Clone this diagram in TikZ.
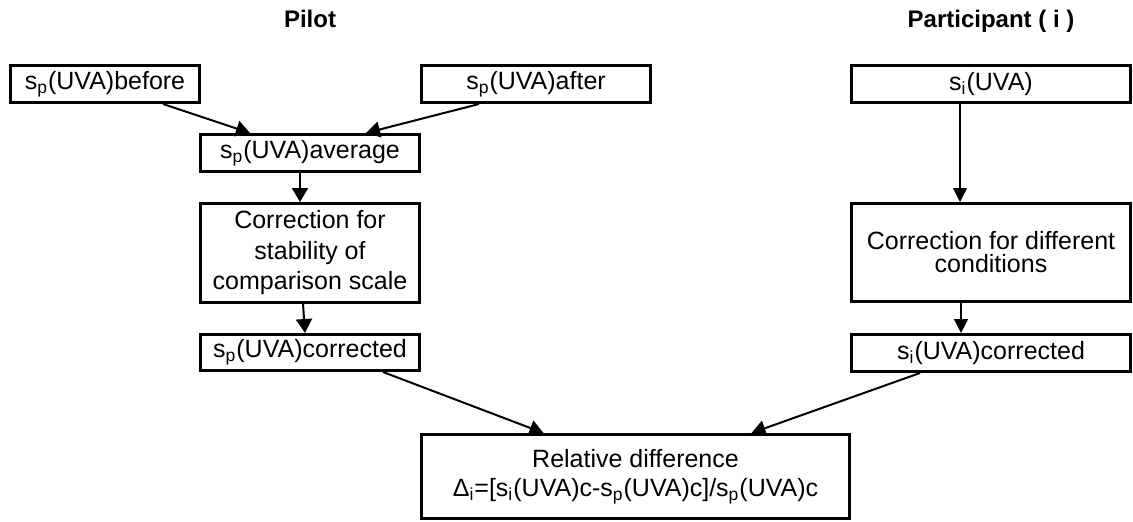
\documentclass[tikz,border=0pt]{standalone}
\usepackage{fontspec}
\setmainfont{Liberation Sans}
\usetikzlibrary{arrows.meta}

\begin{document}
\begin{tikzpicture}[
x=0.5pt, y=-0.5pt,
stage/.style={draw, line width=1.5pt, align=center, inner sep=0pt, font=\fontsize{12.5}{15.25}\selectfont},
title/.style={anchor=base, font=\fontsize{12}{14}\selectfont\bfseries},
arrow/.style={-{Triangle[length=7pt, width=8pt]}, line width=1pt},
thinarrow/.style={-{Triangle[length=7pt, width=7pt]}, line width=0.65pt}
]
\useasboundingbox (0,0) rectangle (1133,521);

% column headings
\node[title] (pilot) at (310,27) {Pilot};
\node[title] (part) at (991,27) {Participant ( i )};

% pilot side
\node[stage, minimum width=94.5pt, minimum height=18.5pt] (before) at (105,84) {s\textsubscript{p}(UVA)before};
\node[stage, minimum width=114.5pt, minimum height=18.5pt] (after) at (536,84) {s\textsubscript{p}(UVA)after};
\node[stage, minimum width=109.5pt, minimum height=18.5pt] (average) at (310,153) {s\textsubscript{p}(UVA)average};
\node[stage, minimum width=109.5pt, minimum height=49.5pt] (corrstab) at (310,253) {Correction for\\stability of\\comparison scale};
\node[stage, minimum width=109.5pt, minimum height=18pt] (corrp) at (310,352.5) {s\textsubscript{p}(UVA)corrected};

% participant side
\node[stage, minimum width=139.5pt, minimum height=18.5pt] (si) at (991,84) {s\textsubscript{i}(UVA)};
\node[stage, minimum width=139.5pt, minimum height=49pt, font=\fontsize{12.5}{11.5}\selectfont] (corrdiff) at (991,252.5) {Correction for different\\conditions};
\node[stage, minimum width=139.5pt, minimum height=18.5pt] (corri) at (991,353) {s\textsubscript{i}(UVA)corrected};

% result
\node[stage, minimum width=214pt, minimum height=42pt, font=\fontsize{12.5}{14.5}\selectfont] (reldiff) at (635.5,476.5) {Relative difference\\Δ\textsubscript{i}=[s\textsubscript{i}(UVA)c-s\textsubscript{p}(UVA)c]/s\textsubscript{p}(UVA)c};

\draw[arrow] ([xshift=29pt]before.south) -- ([xshift=-30pt]average.north);
\draw[arrow] ([xshift=-28.5pt]after.south) -- ([xshift=28pt]average.north);
\draw[arrow] ([xshift=-5pt]average.south) -- ([xshift=-5pt]corrstab.north);
\draw[arrow] ([xshift=-3.5pt]corrstab.south) -- ([xshift=-2.5pt]corrp.north);
\draw[thinarrow] ([xshift=-15.5pt]si.south) -- ([xshift=-15.5pt]corrdiff.north);
\draw[thinarrow] ([xshift=-15pt]corrdiff.south) -- ([xshift=-15pt]corri.north);
\draw[arrow] ([xshift=36.5pt]corrp.south) -- ([xshift=-46pt]reldiff.north);
\draw[arrow] ([xshift=-35.5pt]corri.south) -- ([xshift=58pt]reldiff.north);
\end{tikzpicture}
\end{document}
